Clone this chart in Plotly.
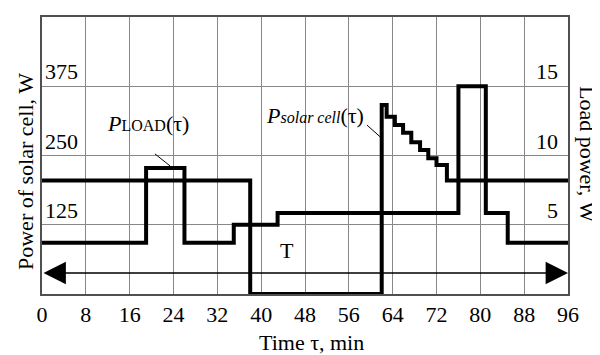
import plotly.graph_objects as go

# Data
time_solar = [0, 38, 62, 62.9, 64.4, 65.9, 67.4, 69.0, 70.5, 72.0, 73.9, 96]
solar_power = [205, 0, 341, 320, 305, 291, 274, 260, 245, 233, 205, 205]

time_load = [0, 19, 26, 35, 43, 76, 81, 85, 96]
load_power = [3.7, 9.1, 3.7, 5.0, 5.85, 15.0, 5.85, 3.7, 3.7]

x_ticks = [0, 8, 16, 24, 32, 40, 48, 56, 64, 72, 80, 88, 96]
left_ticks = [125, 250, 375]
right_ticks = [5, 10, 15]

FONT = "Liberation Serif, Times New Roman, serif"
FS = 22

# page body has an 8px margin; plot area is placed so that in the window it spans x 42..568, y 17..294
L, T_, PW, PH = 34, 9, 526, 277
W, H = 592, 347


def px_x(px):
    return (px - 42) / PW


def px_y(py):
    return (294 - py) / PH


fig = go.Figure()
fig.add_trace(go.Scatter(x=time_solar, y=solar_power, mode="lines", line_shape="hv",
                         line=dict(color="black", width=4), yaxis="y", showlegend=False))
fig.add_trace(go.Scatter(x=time_load, y=load_power, mode="lines", line_shape="hv",
                         line=dict(color="black", width=4), yaxis="y2", showlegend=False))

# Double-headed arrow T
fig.add_annotation(x=96, y=38, ax=0, ay=38, xref="x", yref="y", axref="x", ayref="y",
                   text="", showarrow=True, arrowhead=2, arrowside="end+start",
                   arrowsize=3.2, arrowwidth=1.4, arrowcolor="black", standoff=0, startstandoff=0)
fig.add_annotation(x=44.7, y=79, xref="x", yref="y", text="T", showarrow=False,
                   xanchor="center", yanchor="middle",
                   font=dict(family=FONT, size=FS, color="black"))

# Curve labels
fig.add_annotation(x=19.3, y=307, xref="x", yref="y",
                   text="<i>P</i><span style='font-size:16px'>LOAD</span>(τ)", showarrow=False,
                   xanchor="center", yanchor="middle",
                   font=dict(family=FONT, size=FS, color="black"))
fig.add_shape(type="line", x0=20.6, y0=253, x1=23.4, y1=231, xref="x", yref="y",
              line=dict(color="black", width=1))
fig.add_annotation(x=49.8, y=323, xref="x", yref="y",
                   text="<i>P</i><span style='font-size:16px'><i>solar cell</i></span>(τ)", showarrow=False,
                   xanchor="center", yanchor="middle",
                   font=dict(family=FONT, size=FS, color="black"))
fig.add_shape(type="line", x0=59.3, y0=305, x1=61.9, y1=282, xref="x", yref="y",
              line=dict(color="black", width=1))

# Y tick labels inside the plot, above their gridlines
for v in left_ticks:
    fig.add_annotation(x=0, y=v, xref="paper", yref="y", text=str(v), showarrow=False,
                       xanchor="left", yanchor="bottom", xshift=1, yshift=0,
                       font=dict(family=FONT, size=FS, color="black"))
for v in right_ticks:
    fig.add_annotation(x=1, y=v, xref="paper", yref="y2", text=str(v), showarrow=False,
                       xanchor="right", yanchor="bottom", xshift=-8, yshift=0,
                       font=dict(family=FONT, size=FS, color="black"))

# Axis titles
fig.add_annotation(x=px_x(25), y=px_y(172), xref="paper", yref="paper",
                   xanchor="center", yanchor="middle",
                   text="Power of solar cell, W", showarrow=False, textangle=-90,
                   font=dict(family=FONT, size=FS, color="black"))
fig.add_annotation(x=px_x(588), y=px_y(154), xref="paper", yref="paper",
                   xanchor="center", yanchor="middle",
                   text="Load power, W", showarrow=False, textangle=90,
                   font=dict(family=FONT, size=FS, color="black"))
fig.add_annotation(x=px_x(311), y=px_y(342), xref="paper", yref="paper",
                   xanchor="center", yanchor="middle",
                   text="Time τ, min", showarrow=False,
                   font=dict(family=FONT, size=FS, color="black"))

fig.update_layout(
    width=W, height=H,
    margin=dict(l=L, r=W - L - PW, t=T_, b=H - T_ - PH, autoexpand=False),
    paper_bgcolor="white", plot_bgcolor="white",
    font=dict(family=FONT, size=FS, color="black"),
    xaxis=dict(range=[0, 96], tickvals=x_ticks, ticktext=[str(v) for v in x_ticks],
               showgrid=True, gridcolor="#888888", gridwidth=1,
               showline=True, linecolor="#505050", linewidth=1.5, mirror=True,
               ticks="", zeroline=False),
    yaxis=dict(range=[0, 500], tickvals=left_ticks, showticklabels=False,
               showgrid=True, gridcolor="#888888", gridwidth=1,
               showline=True, linecolor="#505050", linewidth=1.5, mirror=True,
               ticks="", zeroline=False),
    yaxis2=dict(range=[0, 20], tickvals=right_ticks, showticklabels=False,
                overlaying="y", side="right", showgrid=False, zeroline=False,
                ticks="", showline=False),
)

fig.write_html("out.html")
